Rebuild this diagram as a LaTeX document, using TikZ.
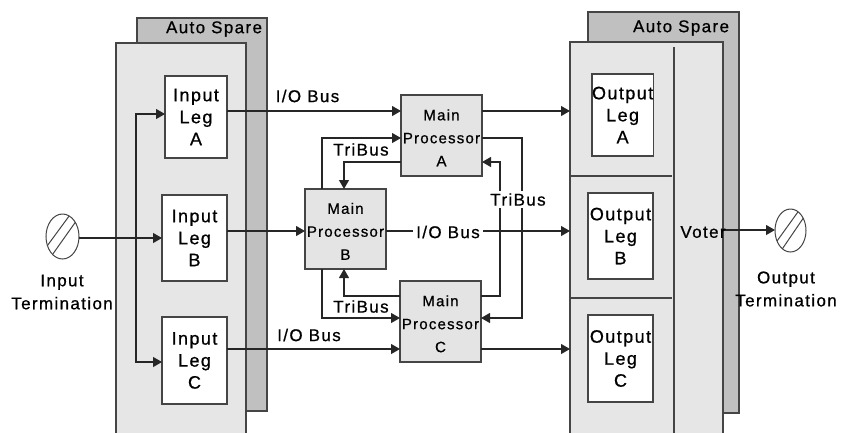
\documentclass[tikz,border=0pt]{standalone}
\usepackage{fontspec}
\setmainfont{Liberation Sans}[LetterSpace=8,FakeBold=0.7]
\usetikzlibrary{arrows.meta,shapes.geometric}
\definecolor{panelfill}{HTML}{E6E6E6}
\definecolor{shadowfill}{HTML}{C0C0C0}
\definecolor{procfill}{HTML}{E4E4E4}
\definecolor{edgec}{HTML}{454545}
\definecolor{wirec}{HTML}{262626}
\newcommand{\toppad}{\rule{0pt}{15.5pt}}
\begin{document}
\begin{tikzpicture}[x=1pt,y=-1pt,
  every node/.style={inner sep=0pt, outer sep=0pt},
  shadowpanel/.style={draw=edgec, fill=shadowfill, line width=1.2pt, anchor=north west},
  frontpanel/.style={draw=edgec, fill=panelfill, line width=1.2pt, anchor=north west},
  legbox/.style={draw=edgec, fill=white, line width=1.2pt, anchor=north west, align=center, font=\fontsize{18}{22}\selectfont},
  procbox/.style={draw=edgec, fill=procfill, line width=1.2pt, anchor=north west, align=center, font=\fontsize{15}{23}\selectfont},
  lbl/.style={font=\fontsize{17}{23}\selectfont, align=center},
  term/.style={draw=edgec, line width=1pt, ellipse, fill=white},
  hatch/.style={draw=edgec, line width=1pt},
  divider/.style={draw=edgec, line width=1.2pt},
  wire/.style={draw=wirec, line width=1.1pt},
  arr/.style={wire, -{Triangle[length=9pt,width=10pt]}},
]
\useasboundingbox (0,0) rectangle (841,432);

% left panels
\node[shadowpanel, minimum width=130, minimum height=393] (lshadow) at (137,18) {};
\node[frontpanel, minimum width=130, minimum height=420] (lpanel) at (116,43) {};
\node[lbl, anchor=east] (lspare) at (262,29) {Auto Spare};

% right panels
\node[shadowpanel, minimum width=151, minimum height=401] (rshadow) at (588,12) {};
\node[frontpanel, minimum width=153, minimum height=420] (rpanel) at (570,42) {};
\node[lbl, anchor=east] (rspare) at (729,28) {Auto Spare};
\draw[divider] (674,47) -- (674,440);
\draw[divider] (570,176) -- (672,176);
\draw[divider] (570,298) -- (672,298);

% input legs
\node[legbox, minimum width=62, minimum height=82] (inA) at (165,76) {Input\\Leg\\A};
\node[legbox, minimum width=65, minimum height=86] (inB) at (162,195) {Input\\Leg\\B};
\node[legbox, minimum width=65, minimum height=87] (inC) at (162,317) {Input\\Leg\\C};

% output legs
\node[legbox, minimum width=61, minimum height=82] (outA) at (592,74) {Output\\Leg\\A};
\node[legbox, minimum width=65, minimum height=86] (outB) at (588,193) {Output\\Leg\\B};
\node[legbox, minimum width=65, minimum height=87] (outC) at (588,315) {Output\\Leg\\C};

% processors
\node[procbox, minimum width=81, minimum height=81] (procA) at (401,95) {\toppad Main\\Processor\\A};
\node[procbox, minimum width=81, minimum height=80] (procB) at (305,189) {\toppad Main\\Processor\\B};
\node[procbox, minimum width=81, minimum height=81] (procC) at (400,281) {\toppad Main\\Processor\\C};

% terminations
\node[term, minimum width=33, minimum height=45] (inT) at (62.5,236.5) {};
\draw[hatch] (inT.211) -- (inT.72);
\draw[hatch] (inT.241) -- (inT.48);
\node[lbl] (inTlbl) at (62,292) {Input\\Termination};
\node[term, minimum width=31, minimum height=43] (outT) at (790.5,230.5) {};
\draw[hatch] (outT.218) -- (outT.68);
\draw[hatch] (outT.246) -- (outT.44);
\node[lbl] (outTlbl) at (786,289) {Output\\Termination};

% levels
\coordinate (yA) at (0,111);
\coordinate (yB) at (0,231);
\coordinate (yC) at (0,349);
\coordinate (yV) at (0,230);
\coordinate (ya1) at (0,114);
\coordinate (yc1) at (0,362);
\coordinate (y138) at (0,138);
\coordinate (y162) at (0,162);
\coordinate (y296) at (0,296);
\coordinate (y318) at (0,318);
\coordinate (x322) at (322,0);
\coordinate (x344) at (344,0);
\coordinate (x500) at (500,0);
\coordinate (x522) at (522,0);
\coordinate (jn) at (136,238);

% input distribution
\draw[arr] (inT.east |- jn) -- (inB.west |- jn);
\draw[arr] (jn) |- (inA.west |- ya1);
\draw[arr] (jn) |- (inC.west |- yc1);

% I/O buses
\draw[arr] (inA.east |- yA) -- (procA.west |- yA);
\draw[arr] (inB.east |- yB) -- (procB.west |- yB);
\draw[arr] (inC.east |- yC) -- (procC.west |- yC);
\draw[arr] (procA.east |- yA) -- (rpanel.west |- yA);
\draw[arr] (procB.east |- yB) -- (rpanel.west |- yB);
\draw[arr] (procC.east |- yC) -- (rpanel.west |- yC);
\node[lbl] (busA) at (307.5,96) {I/O Bus};
\node[lbl, fill=white, inner xsep=3pt, inner ysep=1pt] (busB) at (448,232) {I/O Bus};
\node[lbl] (busC) at (309,335) {I/O Bus};

% voter output
\draw[arr] (rpanel.east |- yV) -- (outT.west |- yV);
\node[lbl] (voter) at (703,232) {Voter};

% TriBus
\draw[arr] (x322 |- procB.north) |- (procA.west |- y138);
\draw[arr] (procA.west |- y162) -| (x344 |- procB.north);
\draw[arr] (procA.east |- y138) -| (x522 |- y318) -- (procC.east |- y318);
\draw[arr] (procC.east |- y296) -| (x500 |- y162) -- (procA.east |- y162);
\draw[arr] (x322 |- procB.south) |- (procC.west |- y318);
\draw[arr] (procC.west |- y296) -| (x344 |- procB.south);
\node[lbl] (tri1) at (361,149.5) {TriBus};
\node[lbl, fill=white, inner xsep=1pt, inner ysep=2pt] (tri2) at (518,199.5) {TriBus};
\node[lbl] (tri3) at (361,306.5) {TriBus};
\end{tikzpicture}
\end{document}
